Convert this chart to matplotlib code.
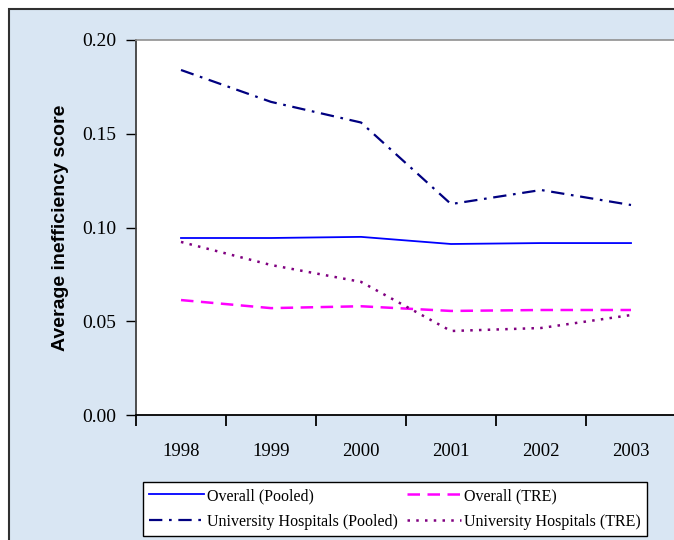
import matplotlib.pyplot as plt
from matplotlib.patches import Rectangle
from matplotlib.ticker import FixedLocator, NullFormatter

years = ["1998", "1999", "2000", "2001", "2002", "2003"]
overall_pooled = [0.0944, 0.0944, 0.0950, 0.0912, 0.0917, 0.0917]
overall_tre = [0.0613, 0.0570, 0.0580, 0.0555, 0.0560, 0.0560]
uni_pooled = [0.1840, 0.1670, 0.1560, 0.1125, 0.1200, 0.1120]
uni_tre = [0.0923, 0.0800, 0.0710, 0.0448, 0.0464, 0.0533]

serif = "Liberation Serif"
sans = "Liberation Sans"

fig = plt.figure(figsize=(6.74, 5.4), dpi=100)
fig.patch.set_facecolor("white")

# light blue panel behind the chart
fig.patches.append(Rectangle((9 / 674, -0.05), 1.1, (531 / 540) + 0.05,
                             transform=fig.transFigure, facecolor="#d9e6f3",
                             edgecolor="#303030", linewidth=1.5, zorder=-5))

ax = fig.add_axes([136 / 674, 125 / 540, 540 / 674, 375 / 540])
ax.set_facecolor("white")

x = list(range(len(years)))
l1, = ax.plot(x, overall_pooled, color="#0000ff", lw=1.3, label="Overall (Pooled)")
l2, = ax.plot(x, overall_tre, color="#ff00ff", lw=1.8, dashes=(5, 3), label="Overall (TRE)")
l3, = ax.plot(x, uni_pooled, color="#000080", lw=1.6, dashes=(6, 3, 1.2, 3),
              label="University Hospitals (Pooled)")
l4, = ax.plot(x, uni_tre, color="#800080", lw=1.8, dashes=(1, 2.5),
              label="University Hospitals (TRE)")

ax.set_xlim(-0.5, len(years) - 0.5)
ax.set_ylim(0, 0.20)
ax.set_yticks([0.00, 0.05, 0.10, 0.15, 0.20])
ax.set_yticklabels(["0.00", "0.05", "0.10", "0.15", "0.20"], fontfamily=serif, fontsize=14)
ax.xaxis.set_major_locator(FixedLocator([i + 0.5 for i in range(-1, len(years))]))
ax.xaxis.set_major_formatter(NullFormatter())
ax.set_xticks(x, minor=True)
ax.set_xticklabels(years, minor=True, fontfamily=serif, fontsize=13.5)
ax.tick_params(axis="x", which="minor", length=0, pad=20)
ax.tick_params(axis="x", which="major", length=8, width=1.3, direction="out")
ax.tick_params(axis="y", length=7, width=1, direction="out", pad=7)

ax.spines["top"].set_color("#909090")
ax.spines["top"].set_linewidth(1.2)
ax.spines["right"].set_visible(False)
ax.spines["left"].set_color("#404040")
ax.spines["left"].set_linewidth(1.3)
ax.spines["bottom"].set_color("black")
ax.spines["bottom"].set_linewidth(1.3)

ax.set_ylabel("Average inefficiency score", fontfamily=sans, fontweight="bold",
              fontsize=14, labelpad=10)

# legend filled column-wise, so order handles to read row by row
handles = [l1, l3, l2, l4]
leg = fig.legend(handles, [h.get_label() for h in handles],
                 loc="lower left", ncol=2,
                 bbox_to_anchor=(143 / 674, 4 / 540),
                 prop={"family": serif, "size": 11.5}, frameon=True, fancybox=False,
                 edgecolor="black", framealpha=1, borderaxespad=0,
                 handlelength=3.4, handletextpad=0.2, labelspacing=0.6,
                 columnspacing=0.55, borderpad=0.4)
leg.get_frame().set_linewidth(1.0)

fig.savefig("out.png", dpi=100)
